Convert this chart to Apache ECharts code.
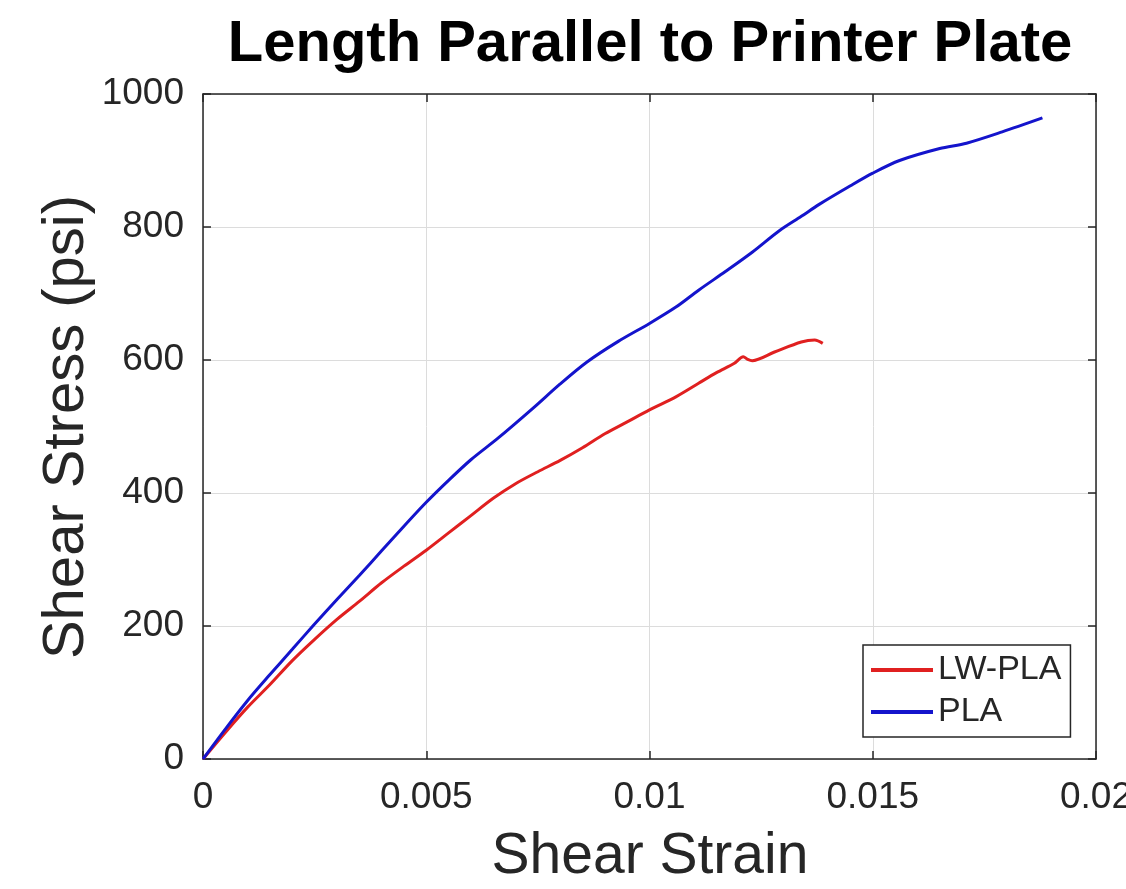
<!DOCTYPE html>
<html>
<head>
<meta charset="utf-8">
<script src="https://cdn.jsdelivr.net/npm/echarts@6/dist/echarts.min.js"></script>
<style>html,body{margin:0;padding:0;background:#fff;overflow:hidden}#c{width:1126px;height:889px}</style>
</head>
<body>
<div id="c"></div>
<script>
var titleText = 'Length Parallel to Printer Plate';
var xName = 'Shear Strain';
var yName = 'Shear Stress (psi)';
var seriesNames = ['LW-PLA', 'PLA'];

var lwStrain = [0,0.0005,0.001,0.0015,0.002,0.0025,0.003,0.0035,0.004,0.0045,0.005,0.0055,0.006,0.0065,0.007,0.0075,0.008,0.0085,0.009,0.0095,0.01,0.0106,0.0111,0.0115,0.0119,0.0121,0.0122,0.0123,0.0128,0.0134,0.0137,0.01388];
var lwStress = [0,40,78,112,148,180,210,237,265,290,314,340,366,392,414,432,449,468,489,507,525,545,565,581,595,605,601,599,612,627,630,625];

var plaStrain = [0,0.0005,0.001,0.0015,0.002,0.0025,0.003,0.0035,0.004,0.0045,0.005,0.0055,0.006,0.0066,0.0074,0.008,0.0086,0.0093,0.01,0.0106,0.0111,0.0117,0.0123,0.0129,0.0134,0.0138,0.0145,0.015,0.0156,0.0165,0.0171,0.0179,0.0188];
var plaStress = [0,45,88,127,165,203,240,276,313,350,386,419,450,482,528,564,597,628,655,680,705,733,762,794,816,834,862,881,900,918,926,943,964];

var xTicks = {min: 0, max: 0.02, interval: 0.005};
var yTicks = {min: 0, max: 1000, interval: 200};

function zip(a, b) { return a.map(function (v, i) { return [v, b[i]]; }); }

var axisColor = '#262626';
var font = 'Liberation Sans, Arial, Helvetica, sans-serif';

var chart = echarts.init(document.getElementById('c'), null, {width: 1126, height: 889});
chart.setOption({
  backgroundColor: '#fff',
  animation: false,
  grid: {left: 203, right: 30, top: 94, bottom: 130, containLabel: false, outerBoundsMode: 'none'},
  graphic: [
    {type: 'text', style: {text: titleText, x: 650, y: 45, textAlign: 'center', textVerticalAlign: 'middle', font: 'bold 58px ' + font, fill: '#000'}},
    {type: 'text', style: {text: xName, x: 650, y: 857, textAlign: 'center', textVerticalAlign: 'middle', font: '57px ' + font, fill: axisColor}},
    {type: 'text', x: 67, y: 427, rotation: Math.PI / 2, style: {text: yName, x: 0, y: 0, textAlign: 'center', textVerticalAlign: 'middle', font: '58px ' + font, fill: axisColor}}
  ],
  legend: {
    data: seriesNames,
    orient: 'vertical',
    left: 863, top: 645,
    padding: [8, 9, 8, 8],
    itemGap: 8,
    itemWidth: 62, itemHeight: 4,
    icon: 'rect',
    backgroundColor: '#fff',
    borderColor: axisColor, borderWidth: 1.5, borderRadius: 0,
    textStyle: {fontFamily: font, fontSize: 34, color: axisColor}
  },
  xAxis: [
    {type: 'value', min: xTicks.min, max: xTicks.max, interval: xTicks.interval,
     axisLine: {show: true, onZero: false, lineStyle: {color: axisColor, width: 1.5}},
     axisTick: {show: true, inside: true, length: 8, lineStyle: {color: axisColor, width: 1.5}},
     axisLabel: {fontFamily: font, fontSize: 37, color: axisColor, margin: 20, showMaxLabel: true,
                 formatter: function (v) { return String(+v.toFixed(4)); }},
     splitLine: {show: true, lineStyle: {color: '#dcdcdc', width: 1}}},
    {type: 'value', position: 'top', min: xTicks.min, max: xTicks.max, interval: xTicks.interval,
     axisLine: {show: true, onZero: false, lineStyle: {color: axisColor, width: 1.5}},
     axisTick: {show: true, inside: true, length: 8, lineStyle: {color: axisColor, width: 1.5}},
     axisLabel: {show: false}, splitLine: {show: false}}
  ],
  yAxis: [
    {type: 'value', min: yTicks.min, max: yTicks.max, interval: yTicks.interval,
     axisLine: {show: true, onZero: false, lineStyle: {color: axisColor, width: 1.5}},
     axisTick: {show: true, inside: true, length: 8, lineStyle: {color: axisColor, width: 1.5}},
     axisLabel: {fontFamily: font, fontSize: 37, color: axisColor, margin: 19,
                 formatter: function (v) { return String(v); }},
     splitLine: {show: true, lineStyle: {color: '#dcdcdc', width: 1}}},
    {type: 'value', position: 'right', min: yTicks.min, max: yTicks.max, interval: yTicks.interval,
     axisLine: {show: true, onZero: false, lineStyle: {color: axisColor, width: 1.5}},
     axisTick: {show: true, inside: true, length: 8, lineStyle: {color: axisColor, width: 1.5}},
     axisLabel: {show: false}, splitLine: {show: false}}
  ],
  series: [
    {name: seriesNames[0], type: 'line', data: zip(lwStrain, lwStress), showSymbol: false, symbol: 'none',
     smooth: 0.3, color: '#e02020', lineStyle: {width: 3, color: '#e02020'}, z: 3},
    {name: seriesNames[1], type: 'line', data: zip(plaStrain, plaStress), showSymbol: false, symbol: 'none',
     smooth: 0.3, color: '#1414cc', lineStyle: {width: 3, color: '#1414cc'}, z: 3}
  ]
});
</script>
</body>
</html>
